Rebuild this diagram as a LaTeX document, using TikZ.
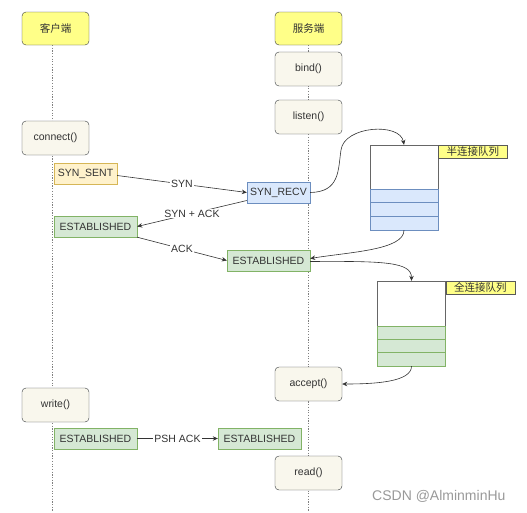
\documentclass[tikz,border=0pt]{standalone}
\usepackage{fontspec}
\setmainfont{Liberation Sans}
\newfontfamily\cjk{Noto Sans CJK SC}
\usepackage{xcolor}
\usetikzlibrary{arrows.meta}
\definecolor{headfill}{HTML}{FFFF88}
\definecolor{notefill}{HTML}{F9F7ED}
\definecolor{noteline}{HTML}{36393D}
\definecolor{sentfill}{HTML}{FFF2CC}
\definecolor{sentline}{HTML}{D6B656}
\definecolor{recvfill}{HTML}{DAE8FC}
\definecolor{recvline}{HTML}{6C8EBF}
\definecolor{estfill}{HTML}{D5E8D4}
\definecolor{estline}{HTML}{82B366}
\tikzset{
    every node/.style={font=\fontsize{10.5}{12.5}\selectfont, text=black!80},
    head/.style={draw=noteline, fill=headfill, rounded corners=4pt, minimum width=67pt, minimum height=33pt, font=\cjk\fontsize{10.5}{12.5}\selectfont},
    call/.style={draw=noteline, fill=notefill, rounded corners=4pt, minimum width=67pt, minimum height=34pt},
    sent/.style={draw=sentline, fill=sentfill, minimum width=63pt, minimum height=21pt, inner sep=0pt},
    recv/.style={draw=recvline, fill=recvfill, minimum width=63pt, minimum height=21pt, inner sep=0pt},
    est/.style={draw=estline, fill=estfill, minimum width=83pt, minimum height=21pt, inner sep=0pt},
    lifeline/.style={black!50, dash pattern=on 1.2pt off 1.5pt, line width=0.6pt},
    msg/.style={->, line width=0.6pt, draw=black!80},
    msglabel/.style={fill=white, inner sep=1pt},
    qtop/.style={draw=black!60, fill=white, minimum width=68pt, minimum height=44pt, inner sep=0pt},
    hqcell/.style={draw=recvline, fill=recvfill, minimum width=68pt, minimum height=13.67pt, inner sep=0pt},
    fqcell/.style={draw=estline, fill=estfill, minimum width=68pt, minimum height=13.33pt, inner sep=0pt},
    qname/.style={draw=black!65, fill=headfill, minimum width=69pt, minimum height=13pt, inner sep=0pt, font=\cjk\fontsize{10.5}{12.5}\selectfont}
}

\begin{document}
\begin{tikzpicture}[x=1pt, y=-1pt, >={Stealth[length=5pt,width=4.5pt]}]
            \useasboundingbox (0,0) rectangle (527,512);
            % lifelines
            \coordinate (ctop) at (52,45);
            \coordinate (cbot) at (52,512);
            \coordinate (stop) at (308,45);
            \coordinate (sbot) at (308,512);
            \draw[lifeline] (ctop) -- (cbot);
            \draw[lifeline] (stop) -- (sbot);

            \node[head] (chead) at (55.5,28.5) {客户端};
            \node[head] (shead) at (308.5,28.5) {服务端};
            \node[call] (bind) at (308.5,69) {bind()};
            \node[call] (listen) at (308.5,117) {listen()};
            \node[call] (connect) at (55.5,138) {connect()};
            \node[call] (accept) at (308.5,384) {accept()};
            \node[call] (write) at (55.5,405) {write()};
            \node[call] (read) at (308.5,473) {read()};

            \node[sent] (synsent) at (85.5,173.5) {SYN\_SENT};
            \node[recv] (synrecv) at (278.5,192.5) {SYN\_RECV};
            \node[est] (estC1) at (95.5,226.5) {ESTABLISHED};
            \node[est] (estS1) at (268.5,260.5) {ESTABLISHED};
            \node[est] (estC2) at (95.5,438.5) {ESTABLISHED};
            \node[est] (estS2) at (259.5,438.5) {ESTABLISHED};

            % half queue
            \node[qtop] (hq) at (404,167) {};
            \foreach \i in {1,2,3}
                \node[hqcell] (hq\i) at (404,{189+13.67*\i-6.83}) {};
            \node[qname, anchor=north west] (hqname) at (hq.north east) {半连接队列};

            % full queue
            \node[qtop, minimum height=45pt] (fq) at (411.5,303.5) {};
            \foreach \i in {1,2,3}
                \node[fqcell] (fq\i) at (411.5,{326+13.33*\i-6.67}) {};
            \node[qname, anchor=north west] (fqname) at (fq.north east) {全连接队列};

            \draw[msg] ([yshift=-2pt]synsent.east) -- node[msglabel] {SYN} (synrecv.west);
            \draw[msg] ([yshift=-8pt]synrecv.west) -- node[msglabel] {SYN + ACK} (estC1.east);
            \draw[msg] (estC1.south east) -- node[msglabel] {ACK} (estS1.west);
            \draw[msg] (estC2.east) -- node[msglabel] {PSH ACK} (estS2.west);

            \draw[msg] (synrecv.east) .. controls (340,192) and (338,170) .. (341,150) .. controls (344,126) and (400,122) .. (hq.north);
            \draw[msg] (hq3.south) .. controls (404,250) and (350,252) .. ([yshift=2pt]estS1.east);
            \draw[msg] ([yshift=-1pt]estS1.east) .. controls (385,261) and (411.5,262) .. (fq.north);
            \draw[msg] (fq3.south) .. controls (411.5,382) and (375,384) .. (accept.east);

            \node[text=black!40, font=\fontsize{14}{16}\selectfont, anchor=east] (mark) at (509,496) {CSDN @AlminminHu};
        \end{tikzpicture}
\end{document}
